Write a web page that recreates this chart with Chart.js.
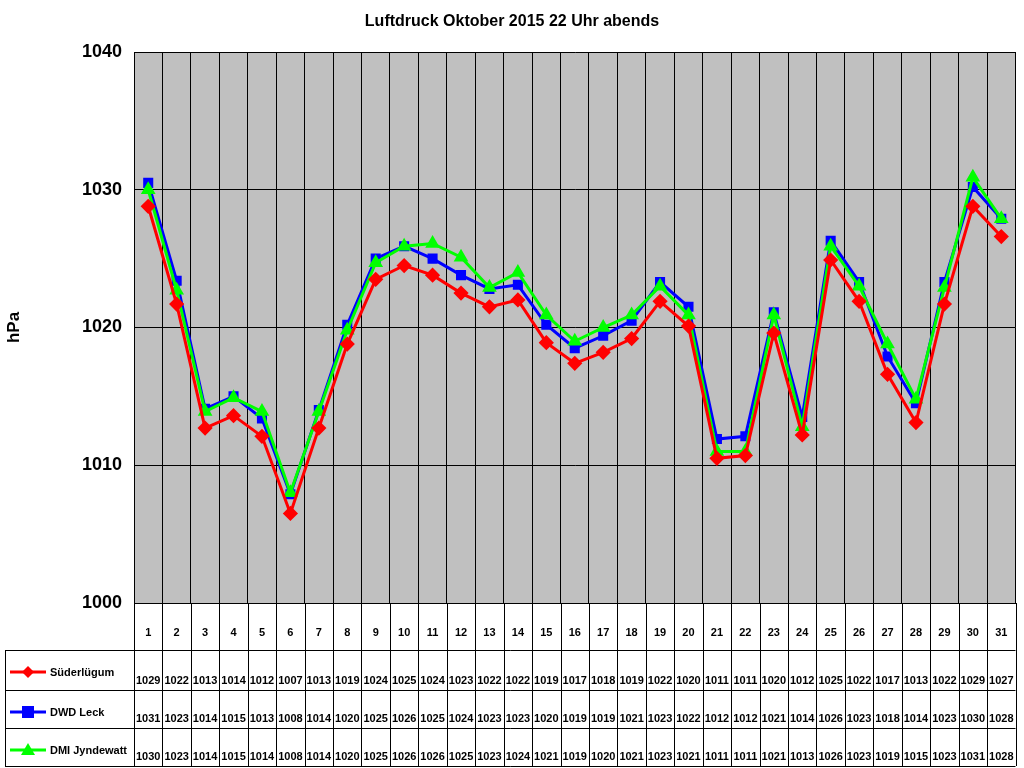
<!DOCTYPE html>
<html>
<head>
<meta charset="utf-8">
<script src="https://cdn.jsdelivr.net/npm/chart.js@4"></script>
<style>
html,body{margin:0;padding:0;background:#fff;}
#wrap{width:1024px;height:768px;position:relative;}
</style>
</head>
<body>
<div id="wrap"><canvas id="chart" width="1024" height="768"></canvas></div>
<script>
const days = Array.from({length: 31}, (_, i) => String(i + 1));
const seriesNames = ['Süderlügum', 'DWD Leck', 'DMI Jyndewatt'];
const seriesColors = ['#ff0000', '#0000ff', '#00ff00'];
const seriesMarkers = ['rectRot', 'rect', 'triangle'];

// plotted values
const suederluegum = [1028.8,1021.7,1012.7,1013.6,1012.1,1006.5,1012.7,1018.8,1023.5,1024.5,1023.8,1022.5,1021.5,1022.0,1018.9,1017.4,1018.2,1019.2,1021.9,1020.1,1010.5,1010.7,1019.6,1012.2,1024.9,1021.9,1016.6,1013.1,1021.7,1028.8,1026.6];
const dwdLeck = [1030.5,1023.4,1014.1,1015.0,1013.4,1007.9,1014.0,1020.2,1025.0,1025.9,1025.0,1023.8,1022.8,1023.1,1020.2,1018.5,1019.4,1020.5,1023.3,1021.5,1011.9,1012.1,1021.1,1013.5,1026.3,1023.3,1017.9,1014.5,1023.3,1030.2,1027.9];
const dmiJyndewatt = [1030.0,1022.7,1013.9,1014.9,1013.9,1008.0,1013.9,1019.8,1024.7,1025.9,1026.1,1025.1,1022.9,1024.0,1020.9,1019.0,1020.0,1020.9,1023.0,1020.9,1011.0,1011.0,1020.9,1012.8,1025.9,1023.0,1018.8,1014.8,1022.9,1030.9,1027.9];

// table values (as printed)
const tabSued = [1029,1022,1013,1014,1012,1007,1013,1019,1024,1025,1024,1023,1022,1022,1019,1017,1018,1019,1022,1020,1011,1011,1020,1012,1025,1022,1017,1013,1022,1029,1027];
const tabDwd = [1031,1023,1014,1015,1013,1008,1014,1020,1025,1026,1025,1024,1023,1023,1020,1019,1019,1021,1023,1022,1012,1012,1021,1014,1026,1023,1018,1014,1023,1030,1028];
const tabDmi = [1030,1023,1014,1015,1014,1008,1014,1020,1025,1026,1026,1025,1023,1024,1021,1019,1020,1021,1023,1021,1011,1011,1021,1013,1026,1023,1019,1015,1023,1031,1028];
const tableRows = [tabSued, tabDwd, tabDmi];

const yTicks = [1000, 1010, 1020, 1030, 1040];

const myChart = document.getElementById('chart').getContext('2d');

// grey plot area, title and the data table underneath
const tablePlugin = {
    id: 'tablePlugin',
    beforeDraw(chart) {
        const a = chart.chartArea, c = chart.ctx;
        c.save();
        c.fillStyle = '#c0c0c0';
        c.fillRect(a.left, a.top, a.right - a.left, a.bottom - a.top);
        c.restore();
    },
    afterDraw(chart) {
        const a = chart.chartArea, c = chart.ctx;
        const colW = (a.right - a.left) / days.length;
        const rowLines = [a.bottom, 650, 690, 728, 766];
        c.save();
        c.fillStyle = '#000';
        c.font = 'bold 16px Arial, "Liberation Sans"';
        c.textAlign = 'center';
        c.fillText('Luftdruck Oktober 2015 22 Uhr abends', 512, 26);

        c.strokeStyle = '#000';
        c.lineWidth = 1;
        // vertical lines through the table
        for (let i = 0; i <= days.length; i++) {
            const x = Math.round(a.left + i * colW) + 0.5;
            c.beginPath(); c.moveTo(x, a.bottom); c.lineTo(x, rowLines[4]); c.stroke();
        }
        c.beginPath(); c.moveTo(5.5, rowLines[1]); c.lineTo(5.5, rowLines[4]); c.stroke();
        for (let r = 1; r < rowLines.length; r++) {
            c.beginPath(); c.moveTo(5, rowLines[r] + 0.5); c.lineTo(a.right, rowLines[r] + 0.5); c.stroke();
        }
        c.font = 'bold 11px Arial, "Liberation Sans"';
        days.forEach((d, i) => c.fillText(d, a.left + (i + 0.5) * colW, 636));
        tableRows.forEach((row, r) => {
            const y = rowLines[r + 2] - 6;
            row.forEach((v, i) => c.fillText(String(v), a.left + (i + 0.5) * colW, y));
            // legend key
            const ky = rowLines[r + 1] + 22;
            c.strokeStyle = seriesColors[r];
            c.lineWidth = 3;
            c.beginPath(); c.moveTo(10, ky); c.lineTo(46, ky); c.stroke();
            c.fillStyle = seriesColors[r];
            const mx = 28;
            c.beginPath();
            if (r === 0) { c.moveTo(mx, ky - 6); c.lineTo(mx + 6, ky); c.lineTo(mx, ky + 6); c.lineTo(mx - 6, ky); }
            else if (r === 1) { c.rect(mx - 6, ky - 6, 12, 12); }
            else { c.moveTo(mx, ky - 7); c.lineTo(mx + 7, ky + 5); c.lineTo(mx - 7, ky + 5); }
            c.closePath(); c.fill();
            c.fillStyle = '#000';
            c.textAlign = 'left';
            c.fillText(seriesNames[r], 50, ky + 4);
            c.textAlign = 'center';
        });
        c.restore();
    }
};

function makeSet(label, data, i) {
    return {
        label: label,
        data: data,
        borderColor: seriesColors[i],
        backgroundColor: seriesColors[i],
        borderWidth: 3,
        pointStyle: seriesMarkers[i],
        pointRadius: i === 1 ? 5 : 5.5,
        tension: 0
    };
}

new Chart(myChart, {
    type: 'line',
    data: {
        labels: days,
        datasets: [
            makeSet(seriesNames[0], suederluegum, 0),
            makeSet(seriesNames[2], dmiJyndewatt, 2),
            makeSet(seriesNames[1], dwdLeck, 1)
        ]
    },
    options: {
        responsive: false,
        animation: false,
        layout: {padding: {top: 52, right: 0, bottom: 165, left: 0}},
        plugins: {legend: {display: false}, title: {display: false}, tooltip: {enabled: false}},
        scales: {
            x: {
                offset: true,
                ticks: {display: false},
                grid: {offset: true, color: '#000', drawTicks: false},
                border: {color: '#000'}
            },
            y: {
                min: 1000, max: 1040,
                afterFit(scale) { scale.width = 134; },
                afterBuildTicks(scale) { scale.ticks = yTicks.map(v => ({value: v})); },
                ticks: {color: '#000', font: {size: 18, weight: 'bold', family: 'Arial, "Liberation Sans"'}, padding: 12,
                    callback: v => String(v)},
                grid: {color: '#000', drawTicks: false},
                border: {color: '#000'},
                title: {display: true, text: 'hPa', color: '#000', font: {size: 17, weight: 'bold', family: 'Arial, "Liberation Sans"'}}
            }
        }
    },
    plugins: [tablePlugin]
});
</script>
</body>
</html>
